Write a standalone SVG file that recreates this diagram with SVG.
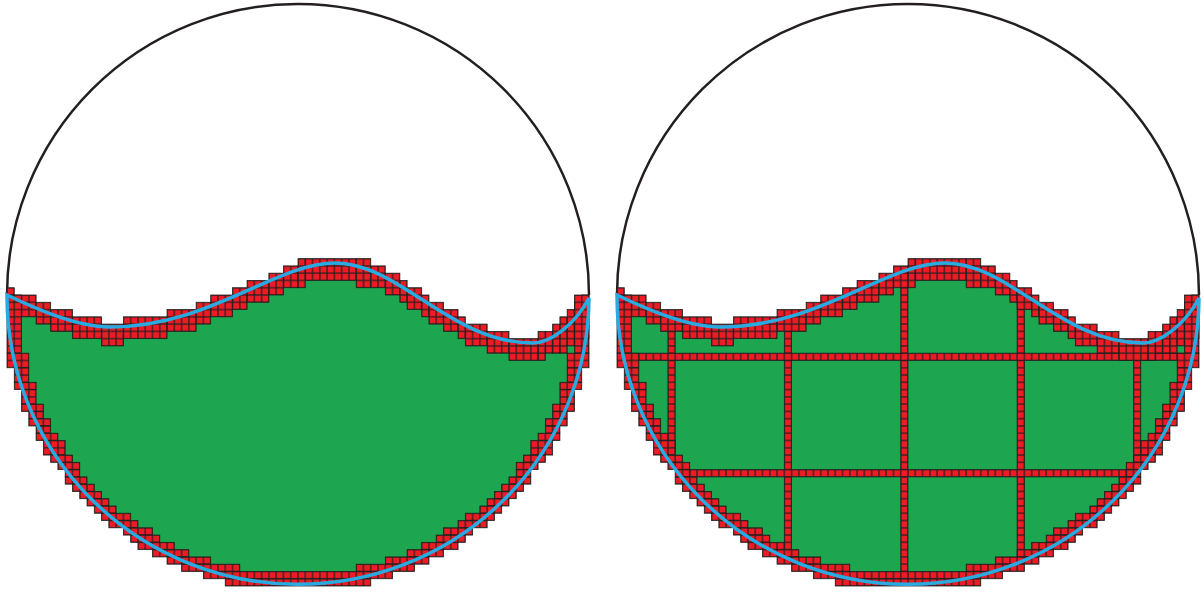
<svg xmlns="http://www.w3.org/2000/svg" xmlns:xlink="http://www.w3.org/1999/xlink" width="1204" height="592" viewBox="0 0 1204 592">
<defs>
<style>
.rim{fill:none;stroke:#231f20;stroke-width:2.5}
.water{fill:#1da64f;stroke:none}
.line{fill:none;stroke:#29abe2;stroke-width:3.5}
.c{fill:url(#cell);stroke:#231f20;stroke-width:0.8}
</style>
<pattern id="cell" patternUnits="userSpaceOnUse" x="7" y="4" width="7.275" height="7.275">
<rect x="0" y="0" width="7.275" height="7.275" fill="#ed1c24" stroke="#231f20" stroke-width="1.2"/>
</pattern>
</defs>

<g id="left-panel">
<path class="rim" d="M7,295 A291,291 0 0 1 589,295"/>
<path class="water" d="M7,295 C30,306 75,327 110,327 C210,327 275,263 335,263 C400,263 450,343 533,343 C550,343 575,325 589,298 A291,288 0 0 1 7,295 Z"/>
<g id="band">
<rect class="c" x="7" y="287.725" width="7.275" height="29.1"/>
<rect class="c" x="14.275" y="295" width="21.825" height="21.825"/>
<rect class="c" x="36.1" y="302.275" width="14.55" height="21.825"/>
<rect class="c" x="50.65" y="309.55" width="21.825" height="21.825"/>
<rect class="c" x="72.475" y="316.825" width="29.1" height="21.825"/>
<rect class="c" x="101.575" y="324.1" width="21.825" height="21.825"/>
<rect class="c" x="123.4" y="316.825" width="43.65" height="21.825"/>
<rect class="c" x="167.05" y="309.55" width="29.1" height="21.825"/>
<rect class="c" x="196.15" y="302.275" width="14.55" height="21.825"/>
<rect class="c" x="210.7" y="295" width="21.825" height="21.825"/>
<rect class="c" x="232.525" y="287.725" width="14.55" height="21.825"/>
<rect class="c" x="247.075" y="280.45" width="21.825" height="21.825"/>
<rect class="c" x="268.9" y="273.175" width="14.55" height="21.825"/>
<rect class="c" x="283.45" y="265.9" width="14.55" height="21.825"/>
<rect class="c" x="298" y="258.625" width="7.275" height="29.1"/>
<rect class="c" x="305.275" y="258.625" width="50.925" height="21.825"/>
<rect class="c" x="356.2" y="258.625" width="14.55" height="29.1"/>
<rect class="c" x="370.75" y="265.9" width="14.55" height="21.825"/>
<rect class="c" x="385.3" y="273.175" width="14.55" height="21.825"/>
<rect class="c" x="399.85" y="280.45" width="7.275" height="21.825"/>
<rect class="c" x="407.125" y="287.725" width="14.55" height="21.825"/>
<rect class="c" x="421.675" y="295" width="7.275" height="21.825"/>
<rect class="c" x="428.95" y="302.275" width="14.55" height="21.825"/>
<rect class="c" x="443.5" y="309.55" width="14.55" height="21.825"/>
<rect class="c" x="458.05" y="316.825" width="7.275" height="21.825"/>
<rect class="c" x="465.325" y="324.1" width="21.825" height="21.825"/>
<rect class="c" x="487.15" y="331.375" width="21.825" height="21.825"/>
<rect class="c" x="508.975" y="338.65" width="29.1" height="21.825"/>
<rect class="c" x="538.075" y="331.375" width="7.275" height="29.1"/>
<rect class="c" x="545.35" y="331.375" width="7.275" height="21.825"/>
<rect class="c" x="552.625" y="324.1" width="7.275" height="29.1"/>
<rect class="c" x="559.9" y="316.825" width="7.275" height="36.375"/>
<rect class="c" x="567.175" y="309.55" width="7.275" height="36.375"/>
<rect class="c" x="574.45" y="302.275" width="7.275" height="36.375"/>
<rect class="c" x="581.725" y="295" width="7.275" height="43.65"/>

<rect class="c" x="7" y="295" width="14.55" height="58.2"/>
<rect class="c" x="574.45" y="295" width="14.55" height="58.2"/>
<rect class="c" x="7" y="353.2" width="21.825" height="14.55"/>
<rect class="c" x="567.175" y="353.2" width="21.825" height="14.55"/>
<rect class="c" x="14.275" y="367.75" width="14.55" height="14.55"/>
<rect class="c" x="567.175" y="367.75" width="14.55" height="14.55"/>
<rect class="c" x="14.275" y="382.3" width="21.825" height="7.275"/>
<rect class="c" x="559.9" y="382.3" width="21.825" height="7.275"/>
<rect class="c" x="21.55" y="389.575" width="14.55" height="14.55"/>
<rect class="c" x="559.9" y="389.575" width="14.55" height="14.55"/>
<rect class="c" x="21.55" y="404.125" width="21.825" height="7.275"/>
<rect class="c" x="552.625" y="404.125" width="21.825" height="7.275"/>
<rect class="c" x="28.825" y="411.4" width="14.55" height="7.275"/>
<rect class="c" x="552.625" y="411.4" width="14.55" height="7.275"/>
<rect class="c" x="28.825" y="418.675" width="21.825" height="7.275"/>
<rect class="c" x="545.35" y="418.675" width="21.825" height="7.275"/>
<rect class="c" x="36.1" y="425.95" width="14.55" height="7.275"/>
<rect class="c" x="545.35" y="425.95" width="14.55" height="7.275"/>
<rect class="c" x="36.1" y="433.225" width="21.825" height="7.275"/>
<rect class="c" x="538.075" y="433.225" width="21.825" height="7.275"/>
<rect class="c" x="43.375" y="440.5" width="21.825" height="14.55"/>
<rect class="c" x="530.8" y="440.5" width="21.825" height="14.55"/>
<rect class="c" x="50.65" y="455.05" width="21.825" height="7.275"/>
<rect class="c" x="523.525" y="455.05" width="21.825" height="7.275"/>
<rect class="c" x="57.925" y="462.325" width="21.825" height="7.275"/>
<rect class="c" x="516.25" y="462.325" width="21.825" height="7.275"/>
<rect class="c" x="65.2" y="469.6" width="14.55" height="7.275"/>
<rect class="c" x="516.25" y="469.6" width="14.55" height="7.275"/>
<rect class="c" x="65.2" y="476.875" width="21.825" height="7.275"/>
<rect class="c" x="508.975" y="476.875" width="21.825" height="7.275"/>
<rect class="c" x="72.475" y="484.15" width="21.825" height="7.275"/>
<rect class="c" x="501.7" y="484.15" width="21.825" height="7.275"/>
<rect class="c" x="79.75" y="491.425" width="21.825" height="7.275"/>
<rect class="c" x="494.425" y="491.425" width="21.825" height="7.275"/>
<rect class="c" x="87.025" y="498.7" width="21.825" height="7.275"/>
<rect class="c" x="487.15" y="498.7" width="21.825" height="7.275"/>
<rect class="c" x="94.3" y="505.975" width="21.825" height="7.275"/>
<rect class="c" x="479.875" y="505.975" width="21.825" height="7.275"/>
<rect class="c" x="101.575" y="513.25" width="29.1" height="7.275"/>
<rect class="c" x="465.325" y="513.25" width="29.1" height="7.275"/>
<rect class="c" x="108.85" y="520.525" width="29.1" height="7.275"/>
<rect class="c" x="458.05" y="520.525" width="29.1" height="7.275"/>
<rect class="c" x="123.4" y="527.8" width="29.1" height="7.275"/>
<rect class="c" x="443.5" y="527.8" width="29.1" height="7.275"/>
<rect class="c" x="130.675" y="535.075" width="29.1" height="7.275"/>
<rect class="c" x="436.225" y="535.075" width="29.1" height="7.275"/>
<rect class="c" x="137.95" y="542.35" width="36.375" height="7.275"/>
<rect class="c" x="421.675" y="542.35" width="36.375" height="7.275"/>
<rect class="c" x="152.5" y="549.625" width="36.375" height="7.275"/>
<rect class="c" x="407.125" y="549.625" width="36.375" height="7.275"/>
<rect class="c" x="167.05" y="556.9" width="43.65" height="7.275"/>
<rect class="c" x="385.3" y="556.9" width="43.65" height="7.275"/>
<rect class="c" x="181.6" y="564.175" width="58.2" height="7.275"/>
<rect class="c" x="356.2" y="564.175" width="58.2" height="7.275"/>
<rect class="c" x="203.425" y="571.45" width="189.15" height="7.275"/>
<rect class="c" x="225.25" y="578.725" width="145.5" height="7.275"/>
</g>
<path class="line" d="M7,295 C30,306 75,327 110,327 C210,327 275,263 335,263 C400,263 450,343 533,343 C550,343 575,325 589,298 A291,288 0 0 1 7,295 Z"/>
</g>

<g id="right-panel" transform="translate(610,0)">
<path class="rim" d="M7,295 A291,291 0 0 1 589,295"/>
<path class="water" d="M7,295 C30,306 75,327 110,327 C210,327 275,263 335,263 C400,263 450,343 533,343 C550,343 575,325 589,298 A291,288 0 0 1 7,295 Z"/>
<g id="grid-lines">
<rect class="c" x="57.925" y="324.1" width="7.275" height="130.95"/>
<rect class="c" x="174.325" y="324.1" width="7.275" height="232.8"/>
<rect class="c" x="290.725" y="280.45" width="7.275" height="298.275"/>
<rect class="c" x="407.125" y="302.275" width="7.275" height="254.625"/>
<rect class="c" x="523.525" y="353.2" width="7.275" height="109.125"/>
<rect class="c" x="21.55" y="353.2" width="552.9" height="7.275"/>
<rect class="c" x="72.475" y="469.6" width="451.05" height="7.275"/>
</g>
<use href="#band" xlink:href="#band"/>
<path class="line" d="M7,295 C30,306 75,327 110,327 C210,327 275,263 335,263 C400,263 450,343 533,343 C550,343 575,325 589,298 A291,288 0 0 1 7,295 Z"/>
</g>
</svg>
